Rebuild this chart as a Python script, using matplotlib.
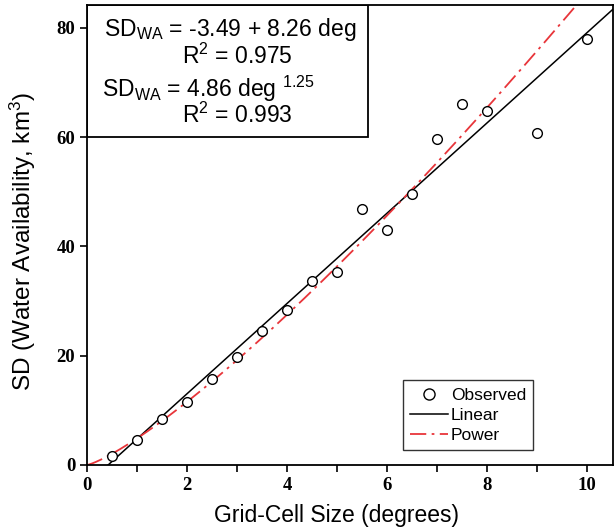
import numpy as np
import matplotlib.pyplot as plt
from matplotlib.patches import Rectangle
from matplotlib.lines import Line2D

plt.rcParams['mathtext.fontset'] = 'custom'
plt.rcParams['mathtext.rm'] = 'Liberation Sans'
plt.rcParams['mathtext.it'] = 'Liberation Sans'

# observed points
grid_size = [0.5, 1.0, 1.5, 2.0, 2.5, 3.0, 3.5, 4.0, 4.5, 5.0,
             5.5, 6.0, 6.5, 7.0, 7.5, 8.0, 9.0, 10.0]
sd_wa = [1.7, 4.5, 8.5, 11.5, 15.7, 19.8, 24.6, 28.3, 33.7, 35.4,
         46.8, 43.1, 49.6, 59.7, 66.1, 64.8, 60.8, 78.0]

# fit coefficients as printed in the chart
lin_a, lin_b = -3.49, 8.26
pow_a, pow_b = 4.86, 1.25

xticks = [0, 2, 4, 6, 8, 10]
yticks = [0, 20, 40, 60, 80]

fig = plt.figure(figsize=(6.15, 5.32), dpi=100)
ax = fig.add_axes([0.1415, 0.126, 0.855, 0.8646])

x_max, y_max = 10.52, 84.2

# fit lines
xl = np.linspace(-lin_a / lin_b, x_max, 200)
ax.plot(xl, lin_a + lin_b * xl, color='black', lw=1.1, label='Linear')
xp = np.linspace(0, x_max, 300)
ax.plot(xp, pow_a * xp ** pow_b, color='#e8353a', lw=1.3,
        dashes=(9, 3, 1.5, 3), label='Power')
ax.plot(grid_size, sd_wa, 'o', mfc='white', mec='black', mew=1.0,
        ms=7, label='Observed', zorder=5)

ax.set_xlim(0, x_max)
ax.set_ylim(0, y_max)
ax.set_xticks(xticks)
ax.set_xticks([1, 3, 5, 7, 9], minor=True)
ax.set_yticks(yticks)
ax.tick_params(direction='out', length=5, width=1.2, labelsize=13.5)
ax.tick_params(axis='x', pad=4)
ax.tick_params(which='minor', direction='out', length=5, width=1.2)
for lab in ax.get_xticklabels() + ax.get_yticklabels():
    lab.set_fontfamily('Liberation Serif')
    lab.set_fontweight('bold')
for s in ax.spines.values():
    s.set_linewidth(1.3)

ax.set_xlabel('Grid-Cell Size (degrees)', fontsize=16.5,
              family='Liberation Sans')
ax.set_ylabel(r'SD (Water Availability, km$^3$)', fontsize=17.5,
              family='Liberation Sans')
ax.xaxis.set_label_coords(5 / x_max, -0.085)
ax.yaxis.set_label_coords(-0.094, 41 / y_max)

# equation box
ax.add_patch(Rectangle((0, 60), 5.62, y_max - 60, fill=False,
                       edgecolor='black', lw=1.3, zorder=6))
eq_kw = dict(fontsize=16.5, family='Liberation Sans', ha='center',
             va='baseline', zorder=7)
ax.text(2.86, 78.6, r'SD$_{\mathrm{WA}}$ = -3.49 + 8.26 deg', **eq_kw)
ax.text(3.0, 73.5, r'R$^2$ = 0.975', **eq_kw)
ax.text(0.3, 67.3, r'SD$_{\mathrm{WA}}$ = 4.86 deg $^{1.25}$',
        fontsize=16.5, family='Liberation Sans', ha='left',
        va='baseline', zorder=7)
ax.text(3.0, 62.6, r'R$^2$ = 0.993', **eq_kw)

handles = [
    Line2D([], [], marker='o', ls='none', mfc='white', mec='black', ms=8),
    Line2D([], [], color='black', lw=1.1),
    Line2D([], [], color='#e8353a', lw=1.3, dashes=(9, 3, 1.5, 3)),
]
leg = ax.legend(handles, ['Observed', 'Linear', 'Power'],
                loc='lower right', bbox_to_anchor=(0.848, 0.032),
                prop={'family': 'Liberation Sans', 'size': 12.5},
                frameon=True, fancybox=False, edgecolor='black',
                handlelength=2.2, handletextpad=0.15, labelspacing=0.3,
                borderpad=0.4, borderaxespad=0)
leg.get_frame().set_linewidth(1.0)

fig.savefig('out.png', dpi=100)
